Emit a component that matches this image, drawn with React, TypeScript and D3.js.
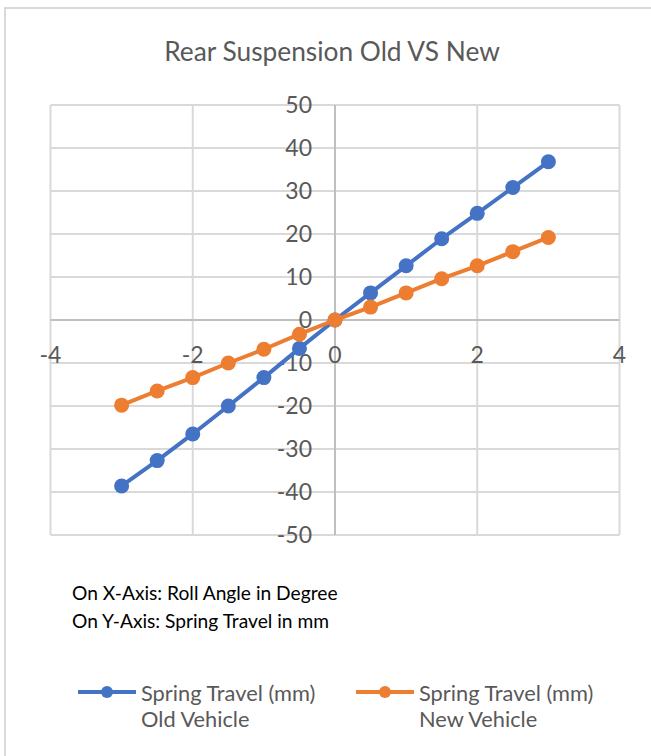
import React from 'react';
import * as d3 from 'd3';

const rollAngle = [-3, -2.5, -2, -1.5, -1, -0.5, 0, 0.5, 1, 1.5, 2, 2.5, 3];
const oldTravel = [-38.6, -32.7, -26.5, -20, -13.4, -6.6, 0, 6.3, 12.6, 18.9, 24.8, 30.8, 36.8];
const newTravel = [-19.8, -16.5, -13.4, -10, -6.8, -3.3, 0, 3, 6.3, 9.6, 12.6, 15.9, 19.2];
const xTicks = [-4, -2, 0, 2, 4];
const yTicks = [-50, -40, -30, -20, -10, 0, 10, 20, 30, 40, 50];
const seriesNames = [
  ['Spring Travel (mm)', 'Old Vehicle'],
  ['Spring Travel (mm)', 'New Vehicle'],
];
const seriesColors = ['#4472C4', '#ED7D31'];
const title = 'Rear Suspension Old VS New';
const notes = ['On X-Axis: Roll Angle in Degree', 'On Y-Axis: Spring Travel in mm'];

const W = 651;
const H = 756;
const FONT = 'Lato, "Open Sans", sans-serif';

export default function App() {
  const x = d3.scaleLinear().domain([-4, 4]).range([50.5, 619.5]);
  const y = d3.scaleLinear().domain([-50, 50]).range([535, 105]);
  const series = [oldTravel, newTravel];
  const line = d3
    .line<[number, number]>()
    .x((d) => x(d[0]))
    .y((d) => y(d[1]));

  const legendX = [78, 356];

  return (
    <div style={{ position: 'absolute', left: 0, top: 0, width: W, height: H, background: '#fff' }}>
      <svg width={W} height={H} style={{ display: 'block' }}>
        <rect x={0} y={0} width={W} height={H} fill="#fff" />
        <rect x={5} y={8} width={W + 20} height={H + 20} fill="#fff" stroke="#d9d9d9" strokeWidth={2} />
        <text x={332} y={61} textAnchor="middle" fontFamily={FONT} fontSize={26.3} fill="#595959">
          {title}
        </text>
        {/* gridlines */}
        {yTicks.filter((t) => t !== 0).map((t) => (
          <line key={'gy' + t} x1={x(-4)} x2={x(4)} y1={y(t)} y2={y(t)} stroke="#d9d9d9" strokeWidth={2} />
        ))}
        {xTicks.filter((t) => t !== 0).map((t) => (
          <line key={'gx' + t} x1={x(t)} x2={x(t)} y1={y(50)} y2={y(-50)} stroke="#d9d9d9" strokeWidth={2} />
        ))}
        {/* zero axes */}
        <line x1={x(-4)} x2={x(4)} y1={y(0)} y2={y(0)} stroke="#bfbfbf" strokeWidth={2} />
        <line x1={x(0)} x2={x(0)} y1={y(50)} y2={y(-50)} stroke="#bfbfbf" strokeWidth={2} />
        {/* tick labels */}
        {yTicks.map((t) => (
          <text key={'ty' + t} x={x(0) - 23} y={y(t) + 8} textAnchor="end" fontFamily={FONT} fontSize={23} fill="#595959">
            {t}
          </text>
        ))}
        {xTicks.map((t) => (
          <text key={'tx' + t} x={x(t)} y={y(0) + 43} textAnchor="middle" fontFamily={FONT} fontSize={23} fill="#595959">
            {t}
          </text>
        ))}
        {/* series */}
        {series.map((vals, i) => {
          const pts: [number, number][] = rollAngle.map((a, j) => [a, vals[j]]);
          return (
            <g key={'s' + i}>
              <path d={line(pts) || ''} fill="none" stroke={seriesColors[i]} strokeWidth={4} strokeLinejoin="round" />
              {pts.map((p, j) => (
                <circle key={j} cx={x(p[0])} cy={y(p[1])} r={7.5} fill={seriesColors[i]} />
              ))}
            </g>
          );
        })}
        {/* notes */}
        {notes.map((n, i) => (
          <text key={'n' + i} x={72} y={600 + i * 28} fontFamily={FONT} fontSize={19.2} fill="#000">
            {n}
          </text>
        ))}
        {/* legend */}
        {seriesNames.map((names, i) => (
          <g key={'l' + i}>
            <line x1={legendX[i]} x2={legendX[i] + 58} y1={692} y2={692} stroke={seriesColors[i]} strokeWidth={4} />
            <circle cx={legendX[i] + 29} cy={692} r={6} fill={seriesColors[i]} />
            {names.map((nm, k) => (
              <text key={k} x={legendX[i] + 63} y={701 + k * 26} fontFamily={FONT} fontSize={21.8} fill="#595959">
                {nm}
              </text>
            ))}
          </g>
        ))}
      </svg>
    </div>
  );
}
